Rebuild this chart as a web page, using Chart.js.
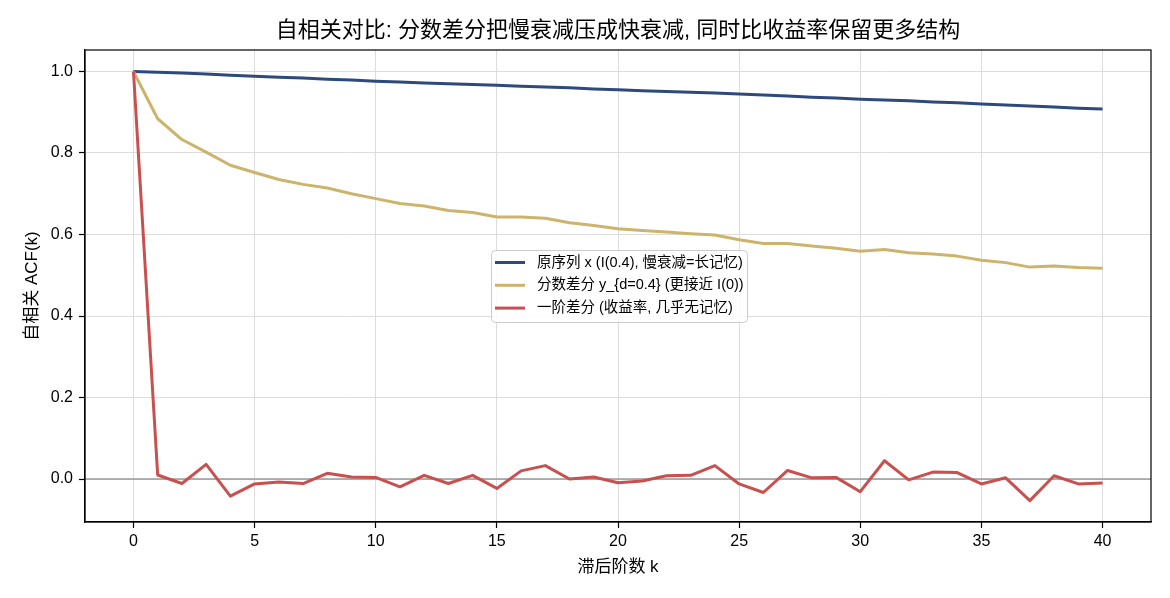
<!DOCTYPE html>
<html>
<head>
<meta charset="utf-8">
<script src="https://cdn.jsdelivr.net/npm/chart.js@4.4.1/dist/chart.umd.min.js"></script>
<style>
  html, body { margin: 0; padding: 0; background: #ffffff; }
  #wrap { width: 1170px; height: 598px; }
</style>
</head>
<body>
<div id="wrap"><canvas id="c" width="1170" height="598"></canvas></div>
<script>
const lags = [0,1,2,3,4,5,6,7,8,9,10,11,12,13,14,15,16,17,18,19,20,21,22,23,24,25,26,27,28,29,30,31,32,33,34,35,36,37,38,39,40];
const acfOriginal = [1.000,0.998,0.996,0.994,0.991,0.988,0.986,0.984,0.981,0.979,0.976,0.974,0.972,0.970,0.968,0.966,0.964,0.962,0.960,0.957,0.955,0.953,0.951,0.949,0.947,0.945,0.942,0.940,0.937,0.935,0.932,0.930,0.928,0.925,0.923,0.920,0.918,0.915,0.913,0.910,0.908];
const acfFracDiff = [1.000,0.884,0.833,0.802,0.770,0.752,0.735,0.723,0.714,0.700,0.688,0.676,0.670,0.659,0.654,0.643,0.643,0.640,0.629,0.622,0.614,0.610,0.606,0.602,0.599,0.587,0.578,0.578,0.572,0.566,0.559,0.563,0.555,0.552,0.547,0.537,0.531,0.520,0.523,0.519,0.517];
const acfFirstDiff = [1.000,0.010,-0.011,0.036,-0.042,-0.012,-0.007,-0.011,0.014,0.005,0.004,-0.019,0.009,-0.011,0.009,-0.023,0.020,0.033,0.000,0.005,-0.009,-0.005,0.008,0.009,0.033,-0.012,-0.033,0.021,0.003,0.004,-0.031,0.045,-0.002,0.017,0.016,-0.012,0.003,-0.053,0.008,-0.012,-0.010];
const seriesLabels = ["原序列 x (I(0.4), 慢衰减=长记忆)", "分数差分 y_{d=0.4} (更接近 I(0))", "一阶差分 (收益率, 几乎无记忆)"];
const xTicks = [0,5,10,15,20,25,30,35,40];
const yTicks = [0.0,0.2,0.4,0.6,0.8,1.0];
const yTickLabels = ["0.0","0.2","0.4","0.6","0.8","1.0"];
const titleText = "自相关对比: 分数差分把慢衰减压成快衰减, 同时比收益率保留更多结构";
const xTitle = "滞后阶数 k";
const yTitle = "自相关 ACF(k)";

const FONT = '"Liberation Sans", Arial, "Noto Sans CJK SC", "DejaVu Sans", sans-serif';
const COLORS = ["#2e4a7d", "#cdb46c", "#c8504f"];

function toPoints(vals) { return lags.map((k, i) => ({ x: k, y: vals[i] })); }

const framePlugin = {
  id: 'frame',
  beforeDatasetsDraw(chart) {
    const ctx = chart.ctx, ca = chart.chartArea, ys = chart.scales.y;
    const y0 = ys.getPixelForValue(0);
    ctx.save();
    ctx.strokeStyle = '#999999';
    ctx.lineWidth = 1.5;
    ctx.beginPath();
    ctx.moveTo(ca.left, y0);
    ctx.lineTo(ca.right, y0);
    ctx.stroke();
    ctx.restore();
  },
  afterDraw(chart) {
    const ctx = chart.ctx, ca = chart.chartArea;
    ctx.save();
    ctx.strokeStyle = '#000000';
    ctx.lineWidth = 1.2;
    ctx.strokeRect(ca.left, ca.top, ca.right - ca.left, ca.bottom - ca.top);
    // title
    ctx.fillStyle = '#000000';
    ctx.font = '22px ' + FONT;
    ctx.textAlign = 'center';
    ctx.textBaseline = 'middle';
    ctx.fillText(titleText, (ca.left + ca.right) / 2, ca.top - 19);
    // legend
    const lx = ca.left + 406, ly = ca.top + 200, lw = 256, lh = 72;
    ctx.fillStyle = 'rgba(255,255,255,0.85)';
    ctx.strokeStyle = '#cccccc';
    ctx.lineWidth = 1;
    ctx.beginPath();
    if (ctx.roundRect) ctx.roundRect(lx + 0.5, ly + 0.5, lw, lh, 4); else ctx.rect(lx + 0.5, ly + 0.5, lw, lh);
    ctx.fill();
    ctx.stroke();
    ctx.font = '14.5px ' + FONT;
    ctx.textAlign = 'left';
    ctx.textBaseline = 'middle';
    chart.data.datasets.forEach((ds, i) => {
      const ry = ly + 12.5 + i * 22.8;
      ctx.strokeStyle = ds.borderColor;
      ctx.lineWidth = 3;
      ctx.beginPath();
      ctx.moveTo(lx + 4, ry);
      ctx.lineTo(lx + 34, ry);
      ctx.stroke();
      ctx.fillStyle = '#000000';
      ctx.fillText(ds.label, lx + 46, ry);
    });
    ctx.restore();
  }
};

new Chart(document.getElementById('c'), {
  type: 'line',
  data: {
    datasets: [
      { label: seriesLabels[0], data: toPoints(acfOriginal), borderColor: COLORS[0], order: 2 },
      { label: seriesLabels[1], data: toPoints(acfFracDiff), borderColor: COLORS[1], order: 1 },
      { label: seriesLabels[2], data: toPoints(acfFirstDiff), borderColor: COLORS[2], order: 0 }
    ]
  },
  options: {
    responsive: false,
    devicePixelRatio: 1,
    animation: false,
    parsing: true,
    elements: {
      line: { borderWidth: 3, tension: 0, borderJoinStyle: 'round', fill: false },
      point: { radius: 0, hoverRadius: 0 }
    },
    layout: { padding: { top: 50, right: 19, left: 0, bottom: 0 } },
    plugins: {
      legend: { display: false },
      title: { display: false },
      tooltip: { enabled: false }
    },
    scales: {
      x: {
        type: 'linear',
        min: -2,
        max: 42,
        afterFit(scale) { scale.height = 76; },
        afterBuildTicks(scale) { scale.ticks = xTicks.map(v => ({ value: v })); },
        grid: { color: '#dddddd', lineWidth: 1, drawTicks: true, tickLength: 6, tickColor: '#000000', tickWidth: 1.2 },
        border: { display: true, color: '#000000', width: 1.2 },
        ticks: { color: '#000000', font: { family: FONT, size: 16 }, padding: 4, maxRotation: 0, callback: v => String(v) },
        title: { display: true, text: xTitle, color: '#000000', font: { family: FONT, size: 17 }, padding: { top: 0, bottom: 20 } }
      },
      y: {
        type: 'linear',
        min: -0.1054,
        max: 1.0527,
        afterFit(scale) { scale.width = 85; },
        afterBuildTicks(scale) { scale.ticks = yTicks.map(v => ({ value: v })); },
        grid: { color: '#dddddd', lineWidth: 1, drawTicks: true, tickLength: 6, tickColor: '#000000', tickWidth: 1.2 },
        border: { display: true, color: '#000000', width: 1.2 },
        ticks: { color: '#000000', font: { family: FONT, size: 16 }, padding: 6,
          callback: (v) => { const i = yTicks.findIndex(t => Math.abs(t - v) < 1e-9); return i >= 0 ? yTickLabels[i] : ''; } },
        title: { display: true, text: yTitle, color: '#000000', font: { family: FONT, size: 17 }, padding: { top: 22, bottom: 0 } }
      }
    }
  },
  plugins: [framePlugin]
});
</script>
</body>
</html>
